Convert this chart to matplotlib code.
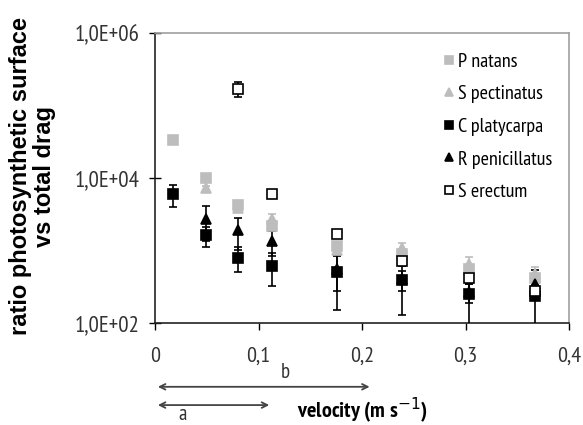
import matplotlib
matplotlib.use('Agg')
import matplotlib.pyplot as plt
from matplotlib.lines import Line2D
from matplotlib.ticker import FixedLocator, FixedFormatter
import numpy as np

# narrow face for ticks / legend, like the Arial Narrow of the original
plt.rcParams['font.family'] = ['PT Sans Narrow', 'Roboto Condensed', 'Liberation Sans',
                               'DejaVu Sans']

# velocities (m s-1)
velocity = np.array([0.0177, 0.049, 0.0805, 0.113, 0.1755, 0.239, 0.3034, 0.367])

p_natans = np.array([33000, 10000, 4200, 2200, 1150, 900, 550, 420])
p_natans_err = np.array([0, 0, 0, 0, 0, 0, 0, 0])

s_pectinatus = np.array([np.nan, 7200, 3800, 2700, 1000, 1070, 660, 480])
s_pectinatus_err = np.array([0, 600, 300, 500, 150, 200, 150, 120])

c_platycarpa = np.array([6000, 1630, 800, 620, 510, 390, 250, 235])
c_platycarpa_err = np.array([2000, 500, 300, 300, 360, 260, 300, 300])

r_penicillatus = np.array([np.nan, 2750, 1900, 1350, 560, 400, 270, 350])
r_penicillatus_err = np.array([0, 1400, 900, 500, 280, 120, 80, 60])

s_erectum = np.array([np.nan, np.nan, 170000, 6000, 1700, 720, 420, 275])
s_erectum_err = np.array([0, 0, 40000, 500, 200, 100, 80, 60])

range_a = (0.0, 0.113)
range_b = (0.0, 0.21)

x_ticks = [0, 0.1, 0.2, 0.3, 0.4]
x_ticklabels = ['0', '0,1', '0,2', '0,3', '0,4']
y_ticks = [1e2, 1e4, 1e6]
y_ticklabels = ['1,0E+02', '1,0E+04', '1,0E+06']

gray = '#bdbdbd'

fig = plt.figure(figsize=(5.83, 4.25), dpi=100)
ax = fig.add_axes([0.266, 0.24, 0.71, 0.6824])

series = [
    ('S pectinatus', s_pectinatus, s_pectinatus_err, '^', gray, gray),
    ('P natans', p_natans, p_natans_err, 's', gray, gray),
    ('C platycarpa', c_platycarpa, c_platycarpa_err, 's', 'black', 'black'),
    ('R penicillatus', r_penicillatus, r_penicillatus_err, '^', 'black', 'black'),
    ('S erectum', s_erectum, s_erectum_err, 's', 'white', 'black'),
]
for name, vals, err, marker, face, edge in series:
    ax.errorbar(velocity, vals, yerr=err, fmt=marker, ms=7.5, mfc=face, mec=edge,
                mew=1.2, ecolor=edge, elinewidth=1.2, capsize=3, capthick=1.2, zorder=3)

ax.set_yscale('log')
ax.set_xlim(0, 0.4)
ax.set_ylim(1e2, 1e6)
ax.yaxis.set_major_locator(FixedLocator(y_ticks))
ax.yaxis.set_major_formatter(FixedFormatter(y_ticklabels))
ax.yaxis.set_minor_locator(FixedLocator([]))
ax.set_xticks(x_ticks)
ax.set_xticklabels(x_ticklabels)

ax.tick_params(axis='y', direction='inout', length=9, width=1, labelsize=16.5,
               labelcolor='#333333', pad=7)
ax.tick_params(axis='x', direction='out', length=5, width=1, labelsize=16,
               labelcolor='#333333', pad=12)
for side in ['left', 'bottom']:
    ax.spines[side].set_color('#222222')
    ax.spines[side].set_linewidth(1.2)
for side in ['top', 'right']:
    ax.spines[side].set_color('#a0a0a0')
    ax.spines[side].set_linewidth(1.2)

# legend with marker-only handles
order = ['P natans', 'S pectinatus', 'C platycarpa', 'R penicillatus', 'S erectum']
style = {s[0]: s for s in series}
handles = [Line2D([], [], ls='none', marker=style[n][3], ms=5.5, mfc=style[n][4],
                  mec=style[n][5], mew=1.2) for n in order]
ax.legend(handles, order, loc='upper left', bbox_to_anchor=(0.675, 0.96), frameon=False,
          fontsize=14.5, handletextpad=0.15, handlelength=0.6, labelspacing=0.72,
          borderaxespad=0)

fig.text(0.055, 0.585, 'ratio photosynthetic surface\nvs total drag', rotation=90,
         ha='center', va='center', fontsize=17, fontweight='bold', linespacing=1.05,
         family=['Liberation Sans', 'DejaVu Sans'])

# velocity range arrows below axis
trans = ax.get_xaxis_transform()
ax.annotate('', xy=(range_b[1], -0.22), xytext=(range_b[0], -0.22), xycoords=trans,
            textcoords=trans, annotation_clip=False,
            arrowprops=dict(arrowstyle='<->', color='#444444', lw=1.3))
ax.annotate('', xy=(range_a[1], -0.283), xytext=(range_a[0], -0.283), xycoords=trans,
            textcoords=trans, annotation_clip=False,
            arrowprops=dict(arrowstyle='<->', color='#444444', lw=1.3))
ax.text(0.126, -0.172, 'b', transform=trans, ha='center', va='center', fontsize=15,
        color='#333333')
ax.text(0.027, -0.317, 'a', transform=trans, ha='center', va='center', fontsize=15,
        color='#333333')
ax.text(0.5, -0.30, 'velocity (m s$^{-1}$)', transform=ax.transAxes, ha='center',
        va='center', fontsize=16, fontweight='bold')

fig.savefig('out.png', dpi=100)
